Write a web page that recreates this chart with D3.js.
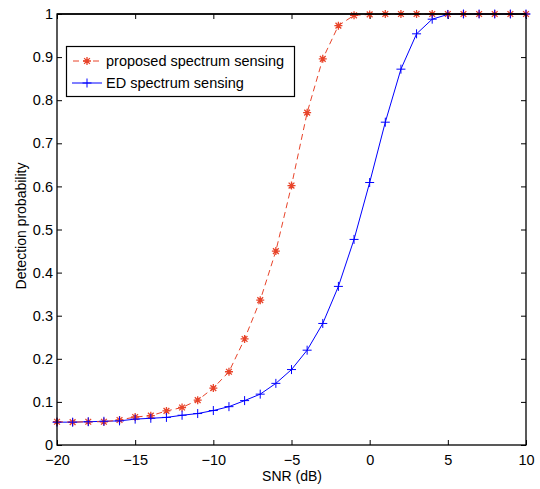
<!DOCTYPE html>
<html><head><meta charset="utf-8">
<script src="https://cdn.jsdelivr.net/npm/d3@7"></script>
<style>body{margin:0;background:#fff}svg{display:block}text{font-family:"Liberation Sans",Arial,sans-serif}</style>
</head><body><svg id="c" width="540" height="489"></svg>
<script>
const snr = d3.range(-20, 11, 1);
const proposed = [0.054,0.053,0.054,0.054,0.058,0.065,0.068,0.079,0.087,0.104,0.132,0.170,0.246,0.336,0.450,0.602,0.771,0.896,0.973,0.997,0.999,1,1,1,1,1,1,1,1,1,1];
const ed = [0.053,0.053,0.054,0.055,0.056,0.060,0.062,0.064,0.069,0.073,0.080,0.089,0.103,0.118,0.143,0.175,0.220,0.282,0.368,0.477,0.609,0.749,0.872,0.954,0.988,0.999,1,1,1,1,1];
const xTicks = [-20,-15,-10,-5,0,5,10];
const yTicks = [0,0.1,0.2,0.3,0.4,0.5,0.6,0.7,0.8,0.9,1];
const seriesNames = ["proposed spectrum sensing","ED spectrum sensing"];

const svg = d3.select("#c");
const L=57,R=526,T=14,B=445;
const x = d3.scaleLinear().domain([-20,10]).range([L,R]);
const y = d3.scaleLinear().domain([0,1]).range([B,T]);
const red="#e8442a", blue="#0000ff";

const fs = 14.5;
svg.append("g").attr("transform",`translate(0,${B})`)
  .call(d3.axisBottom(x).tickValues(xTicks).tickSizeInner(-5).tickSizeOuter(0).tickPadding(10).tickFormat(d=>d<0?"\u2212"+(-d):d))
  .call(g=>{g.select(".domain").remove();g.selectAll("text").attr("font-size",fs).attr("fill","#000").attr("font-family","Liberation Sans, Arial, sans-serif");});
svg.append("g").attr("transform",`translate(0,${T})`)
  .call(d3.axisTop(x).tickValues(xTicks).tickSizeInner(-5).tickSizeOuter(0).tickFormat(""))
  .call(g=>g.select(".domain").remove());
svg.append("g").attr("transform",`translate(${L},0)`)
  .call(d3.axisLeft(y).tickValues(yTicks).tickSizeInner(-5).tickSizeOuter(0).tickPadding(4).tickFormat(d=>d===0||d===1?d3.format("d")(d):d3.format(".1f")(d)))
  .call(g=>{g.select(".domain").remove();g.selectAll("text").attr("font-size",fs).attr("fill","#000").attr("font-family","Liberation Sans, Arial, sans-serif");});
svg.append("g").attr("transform",`translate(${R},0)`)
  .call(d3.axisRight(y).tickValues(yTicks).tickSizeInner(-5).tickSizeOuter(0).tickFormat(""))
  .call(g=>g.select(".domain").remove());

const line = d3.line().x((d,i)=>x(snr[i])).y(d=>y(d));
const gP = svg.append("g");
gP.append("path").datum(ed).attr("d",line).attr("fill","none").attr("stroke",blue).attr("stroke-width",1);
gP.append("path").datum(proposed).attr("d",line).attr("fill","none").attr("stroke",red).attr("stroke-width",1).attr("stroke-dasharray","6,4");

function plus(g,cx,cy,s,c){g.append("path").attr("d",`M${cx-s},${cy}H${cx+s}M${cx},${cy-s}V${cy+s}`).attr("stroke",c).attr("stroke-width",1).attr("fill","none");}
function star(g,cx,cy,s,c){const d=s*0.72;g.append("path").attr("d",`M${cx-s},${cy}H${cx+s}M${cx},${cy-s}V${cy+s}M${cx-d},${cy-d}L${cx+d},${cy+d}M${cx-d},${cy+d}L${cx+d},${cy-d}`).attr("stroke",c).attr("stroke-width",1.3).attr("fill","none");}
proposed.forEach((v,i)=>star(gP,x(snr[i]),y(v),4,red));
ed.forEach((v,i)=>plus(gP,x(snr[i]),y(v),4.5,blue));

svg.append("rect").attr("x",L).attr("y",T).attr("width",R-L).attr("height",B-T).attr("fill","none").attr("stroke","#000").attr("stroke-width",1.3);
svg.append("line").attr("x1",L).attr("x2",R).attr("y1",T).attr("y2",T).attr("stroke","#000").attr("stroke-width",1.3);

const lg = svg.append("g");
lg.append("rect").attr("x",66.5).attr("y",46.5).attr("width",228).attr("height",50).attr("fill","#fff").attr("stroke","#000").attr("stroke-width",1.2);
lg.append("line").attr("x1",72).attr("x2",102).attr("y1",61).attr("y2",61).attr("stroke",red).attr("stroke-dasharray","6,4").attr("stroke-dashoffset",-1);
star(lg,87,61,4,red);
lg.append("line").attr("x1",72).attr("x2",102).attr("y1",83).attr("y2",83).attr("stroke",blue);
plus(lg,87,83,4.5,blue);
lg.append("text").attr("x",106).attr("y",66).attr("font-size",fs).text(seriesNames[0]);
lg.append("text").attr("x",106).attr("y",88).attr("font-size",fs).text(seriesNames[1]);

svg.append("text").attr("x",292).attr("y",481).attr("text-anchor","middle").attr("font-size",14).text("SNR (dB)");
svg.append("text").attr("transform",`translate(26,226) rotate(-90)`).attr("text-anchor","middle").attr("font-size",14).text("Detection probability");
</script></body></html>
